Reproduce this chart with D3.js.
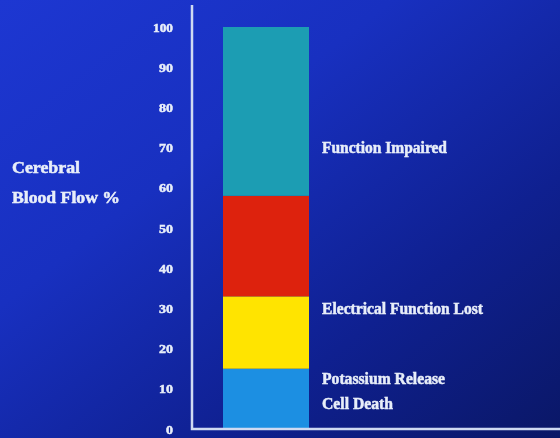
<!DOCTYPE html>
<html>
<head>
<meta charset="utf-8">
<script src="https://cdn.jsdelivr.net/npm/d3@7"></script>
<style>
  html, body { margin: 0; padding: 0; background: #0c1a80; }
  svg { display: block; }
</style>
</head>
<body>
<svg id="chart" width="560" height="438"></svg>
<script>
// ---- data ----
const segments = ["Cell Death", "Electrical Function Lost", "Ischemic Penumbra", "Function Impaired"];
const segmentTops = [15, 33, 58, 100];          // cumulative blood flow % at top of each band
const segmentColors = ["#1b8fe2", "#ffe400", "#dd2210", "#1a9db3"];
const tickValues = [0, 10, 20, 30, 40, 50, 60, 70, 80, 90, 100];
const labelTexts = ["Function Impaired", "Electrical Function Lost", "Potassium Release", "Cell Death"];
const labelLevels = [70, 30, 12.6, 6.4];        // blood flow % at which each note sits
const labelWidths = [125, 161, 123, 71];
const axisTitle = ["Cerebral", "Blood Flow %"];

const svg = d3.select("#chart");
const W = 560, H = 438;

// background gradient
const defs = svg.append("defs");
const grad = defs.append("linearGradient").attr("id", "bg")
  .attr("x1", "0").attr("y1", "0").attr("x2", "1").attr("y2", "1");
grad.append("stop").attr("offset", "0%").attr("stop-color", "#1d37d2");
grad.append("stop").attr("offset", "35%").attr("stop-color", "#1830c0");
grad.append("stop").attr("offset", "70%").attr("stop-color", "#0f2090");
grad.append("stop").attr("offset", "100%").attr("stop-color", "#0a1766");
svg.append("rect").attr("width", W).attr("height", H).attr("fill", "url(#bg)");

const blur = defs.append("filter").attr("id", "soft");
blur.append("feGaussianBlur").attr("stdDeviation", 0.6);

const y = d3.scaleLinear().domain([0, 100]).range([429, 27]);
const barX0 = 223, barX1 = 309;

// stacked bar
const stackData = segmentTops.map((top, i) => ({
  name: segments[i], lo: i === 0 ? 0 : segmentTops[i - 1], hi: top, color: segmentColors[i]
}));
svg.append("g").attr("filter", "url(#soft)")
  .selectAll("rect").data(stackData).join("rect")
  .attr("x", barX0).attr("width", barX1 - barX0)
  .attr("y", d => y(d.hi)).attr("height", d => y(d.lo) - y(d.hi))
  .attr("fill", d => d.color);

const textColor = "#e8eef9";

// axis
const axis = d3.axisLeft(y).tickValues(tickValues).tickSize(0).tickPadding(19);
const gA = svg.append("g").attr("transform", "translate(192,0)").call(axis);
gA.select(".domain").remove();
gA.selectAll("text")
  .attr("fill", textColor)
  .attr("stroke", textColor).attr("stroke-width", 0.5)
  .attr("font-family", "'Liberation Serif', serif")
  .attr("font-weight", "bold")
  .attr("font-size", 13)
  .attr("textLength", d => d === 100 ? 20 : d === 0 ? 7 : 14)
  .attr("lengthAdjust", "spacingAndGlyphs")
  .attr("filter", "url(#soft)");

// axis lines
const lineColor = "#cfdaf2";
svg.append("path")
  .attr("d", `M192,5 L192,${y(0)} L560,${y(0)}`)
  .attr("fill", "none").attr("stroke", lineColor).attr("stroke-width", 2.5)
  .attr("filter", "url(#soft)");

// axis title
svg.append("g").selectAll("text").data(axisTitle).join("text")
  .attr("x", 12).attr("y", (d, i) => 173 + i * 30)
  .attr("fill", textColor)
  .attr("stroke", textColor).attr("stroke-width", 0.5)
  .attr("font-family", "'Liberation Serif', serif")
  .attr("font-weight", "bold").attr("font-size", 16)
  .attr("textLength", (d, i) => i === 0 ? 68 : 108)
  .attr("lengthAdjust", "spacingAndGlyphs")
  .attr("filter", "url(#soft)")
  .text(d => d);

// notes on the right
svg.append("g").selectAll("text").data(labelTexts).join("text")
  .attr("x", 322).attr("y", (d, i) => y(labelLevels[i]))
  .attr("dy", "0.35em")
  .attr("fill", textColor)
  .attr("stroke", textColor).attr("stroke-width", 0.5)
  .attr("font-family", "'Liberation Serif', serif")
  .attr("font-weight", "bold").attr("font-size", 16)
  .attr("textLength", (d, i) => labelWidths[i])
  .attr("lengthAdjust", "spacingAndGlyphs")
  .attr("filter", "url(#soft)")
  .text(d => d);
</script>
</body>
</html>
